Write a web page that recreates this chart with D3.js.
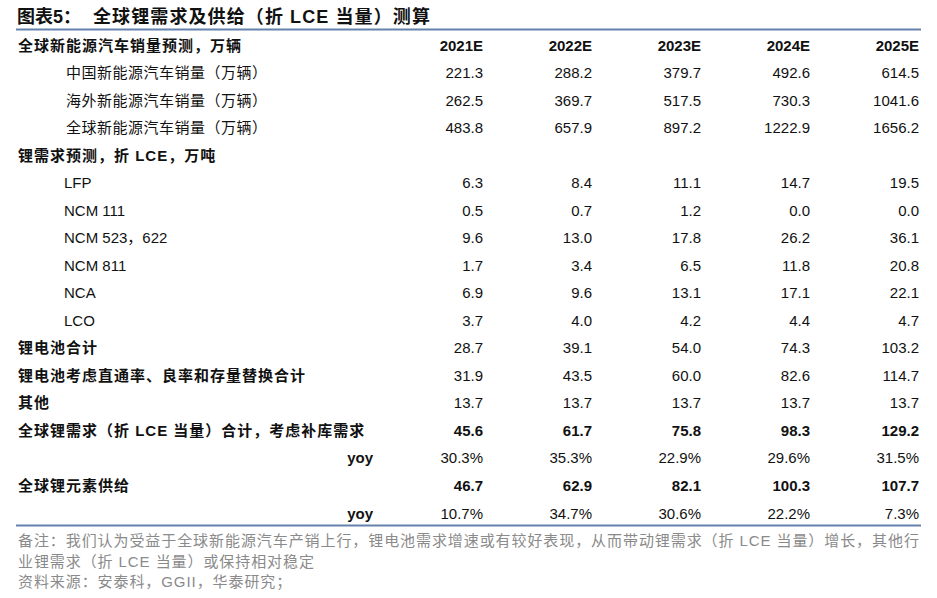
<!DOCTYPE html>
<html><head><meta charset="utf-8">
<script src="https://cdn.jsdelivr.net/npm/d3@7"></script>
<style>body{margin:0;background:#fff}</style>
</head><body>
<svg id="c" width="937" height="598"></svg>
<script>
const years = ["2021E","2022E","2023E","2024E","2025E"];
const labels = [
  "全球新能源汽车销量预测，万辆",
  "中国新能源汽车销量（万辆）",
  "海外新能源汽车销量（万辆）",
  "全球新能源汽车销量（万辆）",
  "锂需求预测，折 LCE，万吨",
  "LFP","NCM 111","NCM 523，622","NCM 811","NCA","LCO",
  "锂电池合计",
  "锂电池考虑直通率、良率和存量替换合计",
  "其他",
  "全球锂需求（折 LCE 当量）合计，考虑补库需求",
  "yoy",
  "全球锂元素供给",
  "yoy"
];
const rowType = ["head","sub","sub","sub","section","item","item","item","item","item","item","bold","bold","bold","boldall","yoy","boldall","yoy"];
const chinaSales = ["221.3","288.2","379.7","492.6","614.5"];
const overseasSales = ["262.5","369.7","517.5","730.3","1041.6"];
const globalSales = ["483.8","657.9","897.2","1222.9","1656.2"];
const lfp = ["6.3","8.4","11.1","14.7","19.5"];
const ncm111 = ["0.5","0.7","1.2","0.0","0.0"];
const ncm523 = ["9.6","13.0","17.8","26.2","36.1"];
const ncm811 = ["1.7","3.4","6.5","11.8","20.8"];
const nca = ["6.9","9.6","13.1","17.1","22.1"];
const lco = ["3.7","4.0","4.2","4.4","4.7"];
const batteryTotal = ["28.7","39.1","54.0","74.3","103.2"];
const batteryAdj = ["31.9","43.5","60.0","82.6","114.7"];
const others = ["13.7","13.7","13.7","13.7","13.7"];
const demandTotal = ["45.6","61.7","75.8","98.3","129.2"];
const demandYoy = ["30.3%","35.3%","22.9%","29.6%","31.5%"];
const supply = ["46.7","62.9","82.1","100.3","107.7"];
const supplyYoy = ["10.7%","34.7%","30.6%","22.2%","7.3%"];
const values = [years, chinaSales, overseasSales, globalSales, null, lfp, ncm111, ncm523, ncm811, nca, lco,
  batteryTotal, batteryAdj, others, demandTotal, demandYoy, supply, supplyYoy];
const title1 = "图表5：";
const title2 = "全球锂需求及供给（折 LCE 当量）测算";
const notes = ["备注：我们认为受益于全球新能源汽车产销上行，锂电池需求增速或有较好表现，从而带动锂需求（折 LCE 当量）增长，其他行",
  "业锂需求（折 LCE 当量）或保持相对稳定",
  "资料来源：安泰科，GGII，华泰研究；"];

const svg = d3.select("#c");
const FONT = "'Liberation Sans', Arial, 'Noto Sans CJK SC', sans-serif";
const lineColor = "#6582aa";

const y = d3.scalePoint().domain(d3.range(labels.length)).range([45, 513]);
const x = d3.scalePoint().domain(years).range([483, 919]);

// title
svg.append("text").attr("x",17).attr("y",23).attr("font-family",FONT).attr("font-size",18).attr("font-weight","bold").attr("fill","#111").text(title1);
svg.append("text").attr("x",93).attr("y",23).attr("font-family",FONT).attr("font-size",18).attr("font-weight","bold").attr("letter-spacing",1.1).attr("fill","#111").text(title2);
svg.append("line").attr("x1",16).attr("x2",921).attr("y1",29.5).attr("y2",29.5).attr("stroke",lineColor).attr("stroke-width",2);
svg.append("line").attr("x1",16).attr("x2",921).attr("y1",525.5).attr("y2",525.5).attr("stroke",lineColor).attr("stroke-width",2);

const rows = svg.append("g").selectAll("g").data(labels).join("g")
  .attr("transform",(d,i)=>`translate(0,${y(i)+5.5})`);

rows.append("text")
  .attr("x",(d,i)=> rowType[i]==="sub" ? 66 : rowType[i]==="item" ? 64 : rowType[i]==="yoy" ? 373 : 18)
  .attr("text-anchor",(d,i)=> rowType[i]==="yoy" ? "end" : "start")
  .attr("font-family",FONT).attr("font-size",15)
  .attr("letter-spacing",(d,i)=> rowType[i]==="sub" ? 0.5 : (rowType[i]==="item"||rowType[i]==="yoy") ? 0 : 1)
  .attr("font-weight",(d,i)=> (rowType[i]==="sub"||rowType[i]==="item") ? "normal" : "bold")
  .attr("fill","#111")
  .text(d=>d);

rows.each(function(d,i){
  const v = values[i];
  if(!v) return;
  d3.select(this).selectAll("text.v").data(v).join("text").attr("class","v")
    .attr("x",(e,j)=>x(years[j])).attr("text-anchor","end")
    .attr("font-family",FONT).attr("font-size",15)
    .attr("font-weight", (rowType[i]==="head"||rowType[i]==="boldall") ? "bold" : "normal")
    .attr("fill","#111").text(e=>e);
});

svg.append("g").selectAll("text").data(notes).join("text")
  .attr("x",18).attr("y",(d,i)=>546+i*20.5)
  .attr("font-family",FONT).attr("font-size",15).attr("letter-spacing",0.92).attr("fill","#8a8a8a").text(d=>d);
</script>
</body></html>
